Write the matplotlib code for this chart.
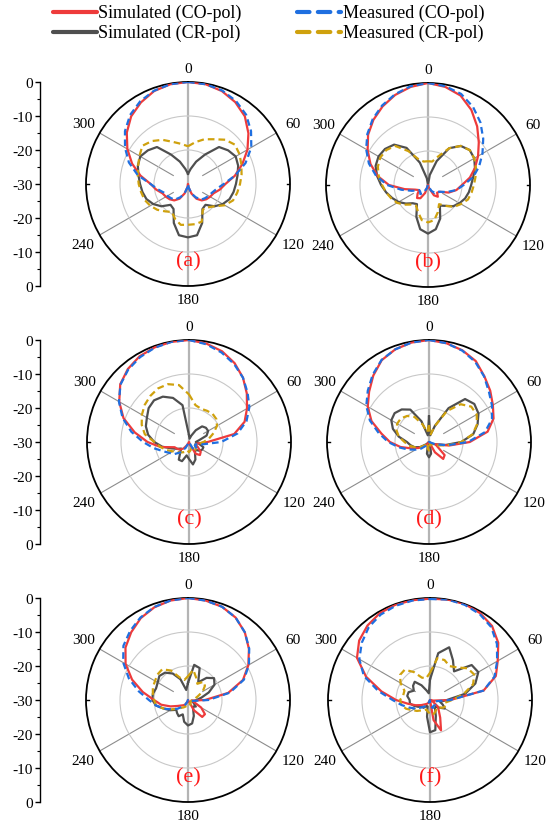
import numpy as np
import matplotlib.pyplot as plt
from matplotlib.lines import Line2D

plt.rcParams['font.family'] = ['Liberation Serif', 'DejaVu Serif']

# angles of the sampled pattern values (deg, clockwise from top)
angles = np.arange(0, 360, 10)

# (a)
a_sim_co = [0, -0.2, -0.9, -2.2, -4.0, -6.8, -9.8, -13, -16, -19, -20.5, -22, -22.5, -23, -23.7, -25, -27, -29,
            -32, -29, -27, -25, -23.7, -23, -22.5, -22, -20.5, -19, -15.8, -12.5, -9.4, -6.5, -4.0, -2.3, -0.9, -0.2]
a_meas_co = [0, -0.2, -0.7, -1.8, -3.4, -5.8, -8.5, -12, -16, -19.5, -21.5, -22.5, -23, -23.5, -24, -25.5, -27, -29,
             -31, -29, -27, -25.5, -24, -23.5, -23, -22.5, -21, -19, -15, -11.5, -8.6, -5.8, -3.5, -1.9, -0.8, -0.2]
a_sim_cr = [-27, -25.5, -23, -20, -15.8, -14.6, -13.8, -14.3, -15.2, -15.9, -16.4, -17, -18.2, -19.8, -22, -21.5, -17.8, -14.7,
            -14.3, -14.7, -17.8, -21.5, -22, -19.8, -18.2, -17, -16.4, -15.9, -15.2, -14.3, -13.8, -14.6, -15.8, -20, -23, -25.5]
a_meas_cr = [-18.9, -17.5, -16, -14.8, -13, -12, -12.5, -13.3, -14, -14.7, -15.3, -15.9, -17.5, -19.8, -21, -21.3, -18.2, -18,
             -18, -17.8, -19, -20.5, -19.5, -18.2, -17.2, -16.4, -16, -15.5, -15, -14.4, -13.5, -12.5, -13.5, -15, -16.8, -18]

# (b)
b_sim_co = [0, -0.7, -2, -4.5, -7.5, -10.5, -13, -15.3, -17.5, -20, -21.5, -23.5, -26, -26.5, -25.5, -26.5, -29, -31,
            -32, -30, -27.5, -25.5, -25, -26, -27, -26, -23, -18.5, -15, -12, -9.5, -7, -5, -3.3, -1.8, -0.7]
b_meas_co = [0, -0.5, -1.5, -3.5, -6, -8.8, -11.5, -14, -16.5, -19.5, -21.5, -24, -26, -27, -27, -28, -29.5, -31,
             -32, -31, -29, -27.5, -26.5, -27, -27, -25, -22, -18, -14.5, -11.5, -9, -6.7, -4.7, -3, -1.6, -0.5]
b_sim_cr = [-31, -27, -22.5, -17.5, -15, -14, -14.3, -15.3, -16.5, -17.3, -17.8, -18.4, -19.3, -20.3, -22, -23, -19.5, -16.8,
            -15.7, -16.8, -20, -23.5, -23, -21.5, -20, -18.8, -17.5, -16.2, -14.8, -13.6, -13.2, -13.5, -14.5, -17.4, -23, -28]
b_meas_cr = [-23, -23, -21, -17.5, -15, -14, -14.3, -15, -15.8, -16.5, -17, -17.5, -18.8, -20, -22, -23.5, -21.5, -19.5,
             -19, -19.5, -21.5, -23, -22.5, -21, -19.5, -18.5, -17.5, -16.5, -15.3, -14.3, -13.8, -14, -15, -18.5, -22, -23]

# (c)
c_sim_co = [0, -0.6, -1.6, -3.2, -5.3, -7.8, -10.3, -12.6, -16.5, -24.5, -27.5, -28, -27, -25.5, -25, -26, -29, -31,
            -32, -32, -31, -29, -27.5, -26.5, -26, -25.5, -21.5, -17.8, -13.8, -9.5, -6.3, -3.6, -2, -0.9, -0.4, -0.1]
c_meas_co = [0, -0.8, -2, -3.5, -5.3, -7.5, -9.5, -12, -15.5, -20.5, -26, -28, -28, -27, -27, -28, -30, -31,
             -32, -31, -30, -28, -26, -24.5, -23.5, -22, -19.5, -16.5, -12.8, -9.2, -6.2, -3.7, -2.2, -1.2, -0.5, -0.1]
c_sim_cr = [-28, -29, -28, -26, -24, -23.5, -23.5, -24.5, -27, -28, -27, -25.5, -25.5, -26, -27, -26.5, -24.5, -23.3,
            -25, -26, -24, -24, -26, -27, -26, -24.5, -22, -19.8, -17.8, -16.5, -15.7, -14.5, -14, -14.6, -16.2, -19]
c_meas_cr = [-16, -19, -19.6, -19.4, -19.2, -19.5, -20.5, -22.3, -24, -25.7, -27, -28, -28, -27.5, -27, -27.5, -28, -27.5,
             -27, -27.5, -27, -26.5, -26, -25.5, -24.5, -23, -21.5, -19.8, -16.8, -15.2, -14, -13, -12.3, -11.8, -11.9, -13]

# (d)
d_sim_co = [0, -0.5, -1.3, -2.5, -4.7, -6.5, -8.3, -9.8, -12.5, -18, -24, -28, -27, -24, -23.5, -26.5, -30, -32,
            -32, -32, -31, -30, -29, -28, -26.5, -24.5, -21.5, -18.5, -15.8, -12, -9.2, -7, -4.5, -2.2, -1, -0.3]
d_meas_co = [0, -0.5, -1.4, -2.8, -4.8, -7, -8.6, -10.3, -13.3, -18.5, -24.5, -28, -30, -30, -31, -31, -31, -32,
             -32, -31.5, -30.5, -29.5, -28.5, -27, -25.5, -23.5, -21, -18, -15, -11.5, -8.7, -6.5, -4.2, -2.1, -1, -0.3]
d_sim_cr = [-22.5, -28, -25, -18.5, -13.5, -12.6, -13.2, -14.8, -16.8, -20.5, -25, -28, -29, -30, -30, -30, -29, -26.5,
            -25.5, -26.5, -29, -30, -30, -29, -27, -25.5, -24.5, -23.5, -21, -18.7, -17.2, -16.8, -17.5, -19, -23.5, -28]
d_meas_cr = [-25, -28, -25, -19.5, -15.5, -13.8, -13.8, -15, -17, -20.5, -24.5, -27, -28.5, -29, -29.5, -29.5, -29, -28,
             -27.5, -28, -29, -29.5, -29.5, -28.5, -27, -25.5, -24, -22.8, -21, -19.8, -19.2, -19.2, -20, -21.5, -24.5, -27]

# (e)
e_sim_co = [0, -0.3, -0.8, -2, -4, -6.6, -9.5, -12.8, -18, -25, -29, -28, -25.5, -23.5, -23.5, -26.5, -30, -32,
            -32, -31, -29.5, -28.5, -28, -27.5, -26.5, -24.5, -22, -20, -16.5, -12.5, -8.8, -6, -4, -2.2, -1, -0.3]
e_meas_co = [0, -0.3, -0.8, -2, -4, -6.5, -9.3, -12.5, -17.5, -24, -28.5, -29.5, -29.5, -29.5, -30, -30.5, -31, -32,
             -32, -31, -29.5, -28.5, -27.5, -26, -24.5, -22.5, -20.5, -18.5, -15.3, -11.5, -8, -5.2, -3.5, -2, -0.9, -0.3]
e_sim_cr = [-25, -19.5, -20, -24, -21.5, -20, -21, -23.5, -26, -27.5, -28, -28.5, -28, -27, -27.5, -27, -25, -23,
            -22.5, -23.5, -25.5, -24.5, -25, -25.5, -24, -22.5, -20.5, -19.5, -19.5, -20, -19.7, -19, -19.5, -21, -23.5, -27]
e_meas_cr = [-23, -21, -23, -24.5, -23, -23.5, -25, -27, -28, -28.5, -29, -29, -29, -29, -29, -28.5, -28.5, -28,
             -28, -28, -28, -27.5, -27, -26, -24.5, -22.5, -20.5, -20, -19.5, -19, -18.8, -18.3, -18.2, -20, -23, -24]

# (f)
f_sim_co = [-0.2, 0, 0, -0.5, -1.6, -3.8, -7, -9.4, -14, -24, -29, -30, -29, -27, -26, -24, -20.5, -24,
            -30, -31, -30, -29, -28.5, -28, -27, -25.5, -23.5, -20, -15.5, -10, -5.2, -2.8, -1.4, -0.5, -0.2, -0.2]
f_meas_co = [-0.3, 0, -0.2, -0.8, -2, -4.3, -7.2, -9.8, -14, -24, -28, -28.5, -28.5, -28, -28, -28, -27.5, -28,
             -29, -30, -29.5, -28.5, -27.5, -26.5, -25, -23.5, -21.5, -19, -14.5, -9.3, -6, -3.8, -2, -1, -0.5, -0.3]
f_sim_cr = [-24, -16, -13.5, -16.5, -19, -14, -13.6, -15.8, -19.5, -25, -27, -26, -25, -26.5, -27.5, -27, -25, -21,
            -20.5, -25, -28, -28, -27, -27, -26, -25, -24, -24, -23.2, -23.3, -24.5, -23.5, -23, -25, -27, -28]
f_meas_cr = [-22, -17.5, -17.5, -18.5, -17.5, -15.5, -15, -16.5, -20, -23.5, -25.5, -25, -25.5, -26.5, -27, -26.5, -26, -25.5,
             -26, -26.5, -27, -26.5, -26, -25, -24, -22.5, -21.5, -21.2, -22, -22, -20, -18.5, -18.4, -20.5, -23, -23.5]

panel_names = ['(a)', '(b)', '(c)', '(d)', '(e)', '(f)']
panel_data = [
    (a_sim_co, a_sim_cr, a_meas_co, a_meas_cr),
    (b_sim_co, b_sim_cr, b_meas_co, b_meas_cr),
    (c_sim_co, c_sim_cr, c_meas_co, c_meas_cr),
    (d_sim_co, d_sim_cr, d_meas_co, d_meas_cr),
    (e_sim_co, e_sim_cr, e_meas_co, e_meas_cr),
    (f_sim_co, f_sim_cr, f_meas_co, f_meas_cr),
]

theta_labels = [0, 60, 120, 180, 240, 300]
radial_ticks = [-30, -20, -10, 0, 10, 20, 30]
radial_ticklabels = ['0', '-10', '-20', '-30', '-20', '-10', '0']
legend_labels = ['Simulated (CO-pol)', 'Simulated (CR-pol)', 'Measured (CO-pol)', 'Measured (CR-pol)']

red = '#ee3b3b'
dark = '#4f4f4f'
blue = '#1f6fe0'
gold = '#cfa10d'

W, H = 554, 828
fig = plt.figure(figsize=(W / 100, H / 100), dpi=100)


def px_axes(x0, y0, w, h, **kw):
    return fig.add_axes([x0 / W, 1 - (y0 + h) / H, w / W, h / H], **kw)


R = 102
centers = [(188, 185), (428, 186), (189, 443), (429, 443), (188, 701), (430, 701)]
row_tops = [83, 341, 599]

for (cx, cy), name, (sco, scr, mco, mcr) in zip(centers, panel_names, panel_data):
    ax = px_axes(cx - R, cy - R, 2 * R, 2 * R, projection='polar')
    ax.set_theta_zero_location('N')
    ax.set_theta_direction(-1)
    ax.set_ylim(-30, 0)
    ax.set_yticks([-20, -10])
    ax.set_yticklabels([])
    ax.set_xticks([])
    ax.yaxis.grid(True, color='#c8c8c8', lw=0.8)
    ax.xaxis.grid(False)
    ax.spines['polar'].set_linewidth(1.3)
    ax.tick_params(axis='y', length=0)

    # spokes
    for t in [60, 120, 240, 300]:
        ax.plot([np.deg2rad(t)] * 2, [-25, 0], color='#8c8c8c', lw=0.8, zorder=1)
    ax.plot([0, 0], [-30, 0], color='#b4b4b4', lw=1.6, zorder=1)
    ax.plot([np.pi, np.pi], [-30, 0], color='#b4b4b4', lw=1.6, zorder=1)
    for t in [90, 270]:
        ax.plot([np.deg2rad(t)] * 2, [-1.0, 0], color='k', lw=1.0, zorder=1)

    th = np.deg2rad(np.append(angles, 360))

    def closed(v):
        return np.clip(np.append(v, v[0]), -30, 0)

    ax.plot(th, closed(scr), color=dark, lw=1.6, zorder=3)
    ax.plot(th, closed(sco), color=red, lw=1.6, zorder=4)
    ax.plot(th, closed(mcr), color=gold, lw=1.6, ls=(0, (3, 1.8)), zorder=5)
    ax.plot(th, closed(mco), color=blue, lw=1.6, ls=(0, (3, 1.8)), zorder=6)

    for t in theta_labels:
        rl = 3.9 if t in (0, 180) else 5.6
        ax.text(np.deg2rad(t), rl, str(t), ha='center', va='center', fontsize=11, clip_on=False)
    ax.text(np.pi, -7.4, name, ha='center', va='center', color='#ff1a1a', fontsize=16)

# left radial scales
for top in row_tops:
    lax = px_axes(40, top, 1, 2 * R)
    lax.set_ylim(-30, 30)
    lax.set_xlim(0, 1)
    for s in ['top', 'right', 'bottom']:
        lax.spines[s].set_visible(False)
    lax.spines['left'].set_linewidth(1.0)
    lax.set_xticks([])
    lax.set_yticks(radial_ticks)
    lax.set_yticklabels(radial_ticklabels, fontsize=11)
    lax.set_yticks(np.arange(-25, 30, 10), minor=True)
    lax.tick_params(axis='y', which='major', direction='out', length=3.5, width=1.0, pad=1.5)
    lax.tick_params(axis='y', which='minor', direction='out', length=2, width=0.8)
    lax.patch.set_visible(False)

# legend
legend_pos = [(53, 97, 98, 13), (53, 97, 98, 33), (297, 341, 343, 13), (297, 341, 343, 33)]
legend_styles = [(red, '-'), (dark, '-'), (blue, (0, (3, 2))), (gold, (0, (3, 2)))]
for (x0, x1, xt, y), (col, ls), lab in zip(legend_pos, legend_styles, legend_labels):
    fig.add_artist(Line2D([x0 / W, x1 / W], [1 - y / H] * 2, transform=fig.transFigure,
                          color=col, lw=3, ls=ls, dash_capstyle='round', solid_capstyle='round'))
    fig.text(xt / W, 1 - y / H, lab, va='center', ha='left', fontsize=13)

fig.savefig('out.png', dpi=100)
